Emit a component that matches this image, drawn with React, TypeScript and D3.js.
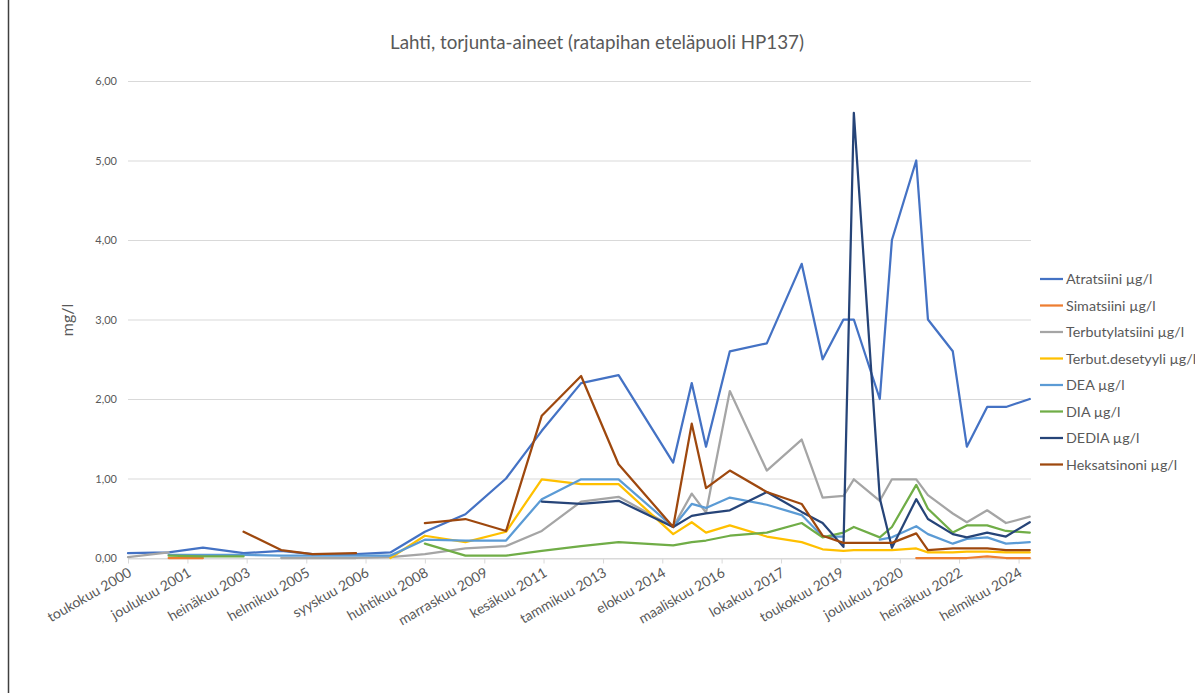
import { useEffect, useRef } from "react";
import * as d3 from "d3";

const title = "Lahti, torjunta-aineet (ratapihan eteläpuoli HP137)";

// sampling dates (shared by every series, null = no value)
const dates = [
  "2000-05-01", "2001-06-01", "2002-05-01", "2003-06-01", "2004-06-01", "2005-04-01",
  "2006-06-01", "2007-05-01", "2008-04-01", "2009-05-01", "2010-06-01", "2011-05-15",
  "2012-06-01", "2013-06-01", "2014-11-15", "2015-05-15", "2015-10-01", "2016-05-20",
  "2017-05-15", "2018-04-20", "2018-11-10", "2019-06-01", "2019-09-10", "2020-05-20",
  "2020-09-15", "2021-05-10", "2021-09-01", "2022-05-01", "2022-09-15", "2023-04-01",
  "2023-10-01", "2024-05-20",
];

const atratsiini = [
  0.06, 0.07, 0.13, 0.06, 0.09, 0.05, 0.05, 0.07, 0.33, 0.55, 1.0, 1.6, 2.2, 2.3, 1.2, 2.2,
  1.4, 2.6, 2.7, 3.7, 2.5, 3.0, 3.0, 2.0, 4.0, 5.0, 3.0, 2.6, 1.4, 1.9, 1.9, 2.0,
];
const simatsiini = [
  null, 0.0, 0.0, null, null, null, null, null, null, null, null, null, null, null, null, null,
  null, null, null, null, null, null, null, null, null, 0.0, 0.0, 0.0, 0.0, 0.02, 0.0, 0.0,
];
const terbutylatsiini = [
  0.01, 0.07, null, null, 0.0, 0.0, 0.0, 0.01, 0.05, 0.12, 0.15, 0.34, 0.71, 0.77, 0.39, 0.81,
  0.57, 2.1, 1.1, 1.49, 0.76, 0.78, 0.99, 0.72, 0.99, 0.99, 0.79, 0.56, 0.45, 0.6, 0.44, 0.52,
];
const terbutDesetyyli = [
  null, null, null, null, null, null, null, 0.0, 0.28, 0.2, 0.33, 0.99, 0.93, 0.93, 0.3, 0.45,
  0.32, 0.41, 0.27, 0.2, 0.11, 0.09, 0.1, 0.1, 0.1, 0.12, 0.07, 0.07, 0.08, 0.08, 0.07, 0.07,
];
const dea = [
  null, 0.04, 0.04, 0.04, 0.03, 0.03, 0.03, 0.03, 0.23, 0.22, 0.22, 0.74, 0.99, 0.99, 0.39, 0.68,
  0.63, 0.76, 0.67, 0.54, 0.27, 0.27, null, 0.23, 0.26, 0.4, 0.3, 0.18, 0.24, 0.26, 0.18, 0.2,
];
const dia = [
  null, 0.03, 0.02, 0.02, null, null, null, null, 0.18, 0.03, 0.03, 0.09, 0.15, 0.2, 0.16, 0.2,
  0.22, 0.28, 0.32, 0.44, 0.26, 0.32, 0.39, 0.26, 0.39, 0.92, 0.62, 0.32, 0.41, 0.41, 0.34, 0.32,
];
const dedia = [
  null, null, null, null, null, null, null, null, null, null, null, 0.71, 0.68, 0.72, 0.39, 0.53,
  0.56, 0.6, 0.83, 0.58, 0.44, 0.14, 5.6, 0.75, 0.13, 0.74, 0.49, 0.3, 0.26, 0.32, 0.27, 0.45,
];
const heksatsinoni = [
  null, null, null, 0.33, 0.1, 0.05, 0.06, null, 0.44, 0.49, 0.34, 1.79, 2.29, 1.18, 0.39, 1.69,
  0.88, 1.1, 0.83, 0.68, 0.28, 0.19, 0.19, 0.19, 0.19, 0.31, 0.1, 0.12, 0.12, 0.12, 0.1, 0.1,
];

const seriesNames = [
  "Atratsiini µg/l",
  "Simatsiini µg/l",
  "Terbutylatsiini µg/l",
  "Terbut.desetyyli µg/l",
  "DEA µg/l",
  "DIA µg/l",
  "DEDIA µg/l",
  "Heksatsinoni µg/l",
];
const seriesValues = [atratsiini, simatsiini, terbutylatsiini, terbutDesetyyli, dea, dia, dedia, heksatsinoni];
const seriesColors = ["#4472C4", "#ED7D31", "#A5A5A5", "#FFC000", "#5B9BD5", "#70AD47", "#264478", "#9E480E"];

const tickDates = [
  "2000-05-01", "2001-12-01", "2003-07-01", "2005-02-01", "2006-09-01", "2008-04-01",
  "2009-11-01", "2011-06-01", "2013-01-01", "2014-08-01", "2016-03-01", "2017-10-01",
  "2019-05-01", "2020-12-01", "2022-07-01", "2024-02-01",
];
const tickLabels = [
  "toukokuu 2000", "joulukuu 2001", "heinäkuu 2003", "helmikuu 2005", "syyskuu 2006",
  "huhtikuu 2008", "marraskuu 2009", "kesäkuu 2011", "tammikuu 2013", "elokuu 2014",
  "maaliskuu 2016", "lokakuu 2017", "toukokuu 2019", "joulukuu 2020", "heinäkuu 2022",
  "helmikuu 2024",
];
const yTicks = [0, 1, 2, 3, 4, 5, 6];

const WIDTH = 1195;
const HEIGHT = 693;
const FONT = "Lato, 'Open Sans', sans-serif";
const TEXT = "#595959";

export default function App() {
  const svgRef = useRef<SVGSVGElement>(null);

  useEffect(() => {
    if (!svgRef.current) return;
    const svg = d3.select(svgRef.current);
    svg.selectAll("*").remove();

    const parse = d3.utcParse("%Y-%m-%d");
    const x = d3
      .scaleUtc()
      .domain([parse("2000-05-01")!, parse("2024-06-01")!])
      .range([128, 1031]);
    const y = d3.scaleLinear().domain([0, 6]).range([558, 81]);

    svg.append("rect").attr("width", WIDTH).attr("height", HEIGHT).attr("fill", "#fff");
    // chart border (left edge only is in view)
    svg
      .append("line")
      .attr("x1", 8.5)
      .attr("x2", 8.5)
      .attr("y1", 0)
      .attr("y2", HEIGHT)
      .attr("stroke", "#404040")
      .attr("stroke-width", 1.5);

    svg
      .append("text")
      .attr("x", 597)
      .attr("y", 49)
      .attr("text-anchor", "middle")
      .attr("font-family", FONT)
      .attr("font-size", 18.8)
      .attr("fill", TEXT)
      .text(title);

    // gridlines + y labels
    const grid = svg.append("g");
    grid
      .selectAll("line")
      .data(yTicks)
      .join("line")
      .attr("x1", 128)
      .attr("x2", 1031)
      .attr("y1", (d) => y(d) + 0.5)
      .attr("y2", (d) => y(d) + 0.5)
      .attr("stroke", "#D9D9D9")
      .attr("stroke-width", 1);
    grid
      .selectAll("text")
      .data(yTicks)
      .join("text")
      .attr("x", 117)
      .attr("y", (d) => y(d) + 4)
      .attr("text-anchor", "end")
      .attr("font-family", FONT)
      .attr("font-size", 11)
      .attr("fill", TEXT)
      .text((d) => d.toFixed(2).replace(".", ","));

    svg
      .append("text")
      .attr("transform", `translate(73,320) rotate(-90)`)
      .attr("text-anchor", "middle")
      .attr("font-family", FONT)
      .attr("font-size", 16)
      .attr("fill", TEXT)
      .text("mg/l");

    // x axis
    const xAxis = svg
      .append("g")
      .attr("transform", `translate(0,${y(0) + 0.5})`)
      .call(
        d3
          .axisBottom(x)
          .tickValues(tickDates.map((d) => parse(d)!))
          .tickSize(5)
          .tickSizeOuter(0)
          .tickFormat((_, i) => tickLabels[i])
      );
    xAxis.select(".domain").attr("stroke", "#D9D9D9");
    xAxis.selectAll(".tick line").attr("stroke", "#D9D9D9");
    xAxis
      .selectAll(".tick text")
      .attr("font-family", FONT)
      .attr("font-size", 14)
      .attr("fill", TEXT)
      .attr("text-anchor", "end")
      .attr("dy", null)
      .attr("y", 0)
      .attr("transform", "translate(4,17) rotate(-30)");

    // series
    const line = d3
      .line<number | null>()
      .defined((d) => d != null)
      .x((_, i) => x(parse(dates[i])!))
      .y((d) => y(d as number));

    seriesValues.forEach((vals, k) => {
      svg
        .append("path")
        .datum(vals)
        .attr("fill", "none")
        .attr("stroke", seriesColors[k])
        .attr("stroke-width", 2.25)
        .attr("stroke-linejoin", "round")
        .attr("stroke-linecap", "round")
        .attr("d", line);
    });

    // legend
    const legend = svg
      .append("g")
      .selectAll("g")
      .data(seriesNames)
      .join("g")
      .attr("transform", (_, i) => `translate(1040,${279 + i * 26.5})`);
    legend
      .append("line")
      .attr("x1", 0)
      .attr("x2", 23)
      .attr("stroke", (_, i) => seriesColors[i])
      .attr("stroke-width", 2.25);
    legend
      .append("text")
      .attr("x", 26)
      .attr("y", 5)
      .attr("font-family", FONT)
      .attr("font-size", 14.3)
      .attr("fill", TEXT)
      .text((d) => d);
  }, []);

  return (
    <div style={{ position: "fixed", left: 0, top: 0 }}>
      <svg ref={svgRef} width={WIDTH} height={HEIGHT} />
    </div>
  );
}
